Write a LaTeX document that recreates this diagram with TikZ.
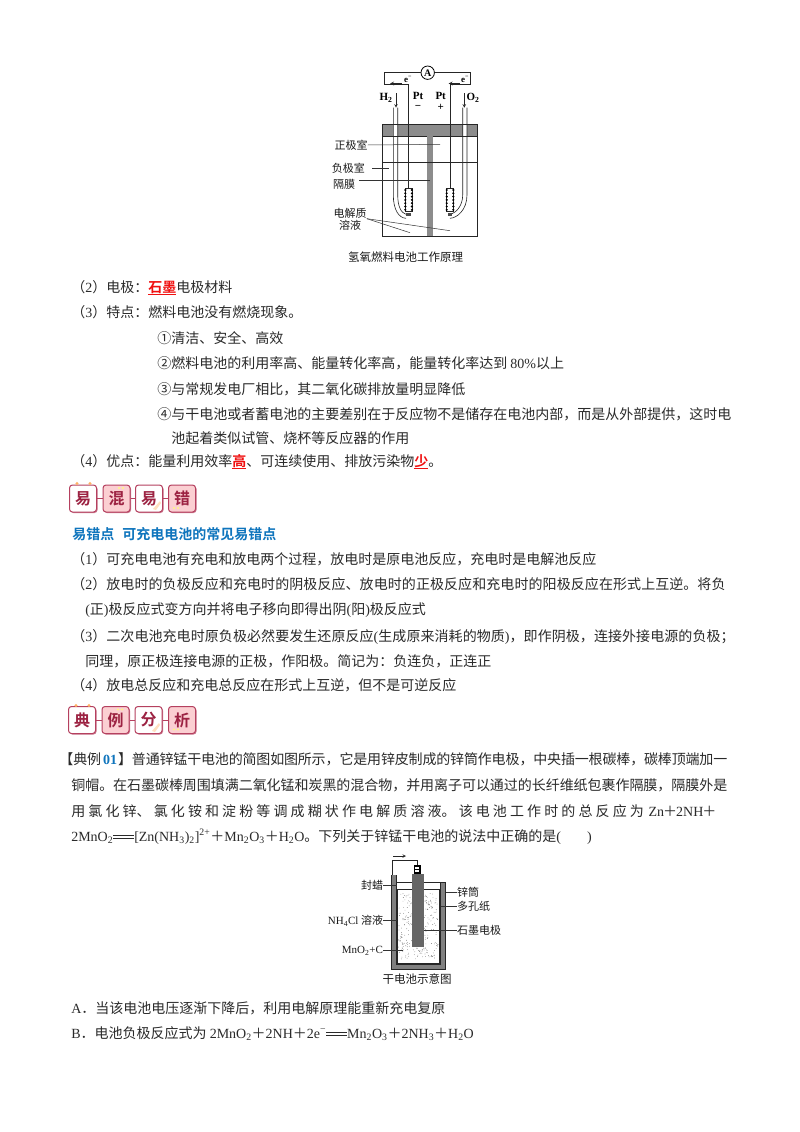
\documentclass[tikz,border=0pt]{standalone}
\usepackage{fontspec}
\setmainfont{Noto Sans CJK SC}[BoldFont={Noto Sans CJK SC Bold}]
\newfontfamily\latfont{Liberation Serif}
\usetikzlibrary{calc}
\usetikzlibrary{arrows, positioning}
\definecolor{bodytext}{HTML}{2A2A2A}
\definecolor{tagline}{HTML}{B5405F}
\definecolor{tagpink}{HTML}{FBCFD2}
\definecolor{tagink}{HTML}{9C2242}
\definecolor{titleblue}{HTML}{0F75BD}
\definecolor{keyred}{HTML}{F01010}
\XeTeXlinebreaklocale "zh"
\XeTeXlinebreakskip=0pt plus 3pt minus 0.5pt
\newcommand{\lat}[1]{{\latfont #1}}
\newcommand{\eqq}{\mbox{\rlap{\rule[2.4pt]{21pt}{0.6pt}}\rule[5pt]{21pt}{0.6pt}}}
\newcommand{\keyw}[1]{{\color{keyred}\bfseries\underline{#1}}}
\begin{document}
\begin{tikzpicture}[x=1pt,y=-1pt,line width=0.6pt]
    \tikzstyle{line}  = [anchor=base west, inner sep=0pt, text=bodytext, font=\fontsize{14}{16}\selectfont]
    \tikzstyle{full}  = [line, text width=#1, execute at begin node={\parfillskip=0pt}]
    \tikzstyle{lab}   = [inner sep=0pt, text=black!90, font=\fontsize{11}{12}\selectfont]
    \tikzstyle{figcap}   = [lab, font=\fontsize{11.5}{12}\selectfont]
    \tikzstyle{sym}   = [inner sep=0pt, text=black, font=\latfont\bfseries\fontsize{11}{12}\selectfont]
    \tikzstyle{tag}   = [draw=tagline, line width=1pt, rounded corners=3pt, minimum width=27pt, minimum height=27pt, inner sep=0pt, text=tagink, font=\fontsize{16}{16}\selectfont\bfseries]
    \tikzstyle{wire}  = [line width=0.6pt, black!85]
    \tikzstyle{lead}  = [line width=0.5pt, black!80]

    \useasboundingbox (0,0) rectangle (800,1132);
    \fill[white] (0,0) rectangle (800,1132);

    % Fuel cell figure .........................
    \fill[black!45] (382.3,124) rectangle (477.3,136.7);
    \fill[black!45] (427.3,136.7) rectangle (432.7,236.7);
    \fill[white] (393.3,124) rectangle (397.7,136.7);
    \fill[white] (462.7,124) rectangle (467,136.7);
    \draw[wire] (382.3,124) rectangle (477.3,236.7);
    \draw[wire] (382.3,136.7) -- (427.3,136.7);
    \draw[wire] (432.7,136.7) -- (477.3,136.7);
    \draw[wire] (382.3,162) -- (477.3,162);

    \node[circle, draw=black, line width=0.8pt, minimum size=13.4pt, inner sep=0pt, font=\latfont\bfseries\fontsize{10}{10}\selectfont] (amm) at (427.7,72.7) {A};
    \coordinate (wl) at (408.3,188.3);
    \coordinate (wr) at (450,188.3);
    \draw[wire] (amm) -- (384,72.7) -- (384,84) -- (408.3,84) -- (wl);
    \draw[wire] (amm) -- (470.7,72.7) -- (470.7,84) -- (450,84) -- (wr);

    \draw[->,>=stealth,wire,line width=0.8pt] (401.5,83.5) -- (390,83.5);
    \draw[->,>=stealth,wire,line width=0.8pt] (460,83.5) -- (448.5,83.5);
    \node[sym, font=\latfont\bfseries\fontsize{9}{10}\selectfont] (el) at (408,79.5) {e\textsuperscript{−}};
    \node[sym, font=\latfont\bfseries\fontsize{9}{10}\selectfont] (er) at (465,79.5) {e\textsuperscript{−}};
    \node[sym] (htwo) at (386,98) {H\textsubscript{2}};
    \node[sym] (otwo) at (473,98) {O\textsubscript{2}};
    \node[sym] (ptl) at (418,96) {Pt};
    \node[sym] (ptr) at (440.7,96) {Pt};
    \node[sym] (mi) at (418,107) {−};
    \node[sym] (pl) at (440.7,107) {+};
    \draw[->,>=stealth,wire] (396,93) -- (396,107.7);
    \draw[->,>=stealth,wire] (464.3,93) -- (464.3,107.7);

    \draw[wire] (393.3,107.7) -- (393.3,195) .. controls (393.3,210) and (399,218) .. (406,218.3);
    \draw[wire] (397.7,107.7) -- (397.7,195) .. controls (397.7,206) and (401,213) .. (406,214.3);
    \draw[wire] (467,107.7) -- (467,195) .. controls (467,210) and (457,218) .. (450,218.3);
    \draw[wire] (462.7,107.7) -- (462.7,195) .. controls (462.7,206) and (456,213) .. (450,214.3);

    \foreach \ex in {405.3,446.7}{
        \draw[wire,fill=white] (\ex,188.3) rectangle ++(6.6,23.4);
        \foreach \ey in {190,193.3,...,211}{
            \fill[black] (\ex,\ey) circle (1.2);
            \fill[black] (\ex+6.6,\ey) circle (1.2);
        }
        \fill[black!70] (\ex+1,212.5) rectangle ++(4.6,3.5);
    }

    \node[lab] (pos) at (351,145) {正极室};
    \node[lab] (neg) at (348.3,168.3) {负极室};
    \node[lab] (mem) at (344,184) {隔膜};
    \node[lab] (elec) at (350,213.3) {电解质};
    \node[lab] (sol) at (350,225) {溶液};
    \coordinate (posend) at (440,144.3);
    \coordinate (negend) at (389.3,168.3);
    \coordinate (memend) at (430,180.7);
    \coordinate (solend) at (450,230.7);
    \coordinate (solenda) at (410,232.7);
    \draw[lead] (pos.east) -- (posend);
    \draw[lead] (372.3,168.3) -- (negend);
    \draw[lead] (359.3,180.7) -- (memend);
    \draw[lead] (elec.south east) -- (solend);
    \draw[lead] (elec.south east) -- (solenda);
    \node[figcap] (capa) at (405.5,256.7) {氢氧燃料电池工作原理};

    % Text block one .........................
    \node[line] (ltwo) at (71,292) {（\lat{2}）电极：\keyw{石墨}电极材料};
    \node[line] (lthree) at (71,317) {（\lat{3}）特点：燃料电池没有燃烧现象。};
    \node[line] (ca) at (157,343) {①清洁、安全、高效};
    \node[line] (cb) at (157,368) {②燃料电池的利用率高、能量转化率高，能量转化率达到 \lat{80\%}以上};
    \node[line] (cc) at (157,394) {③与常规发电厂相比，其二氧化碳排放量明显降低};
    \node[line] (cd) at (157,419) {④与干电池或者蓄电池的主要差别在于反应物不是储存在电池内部，而是从外部提供，这时电};
    \node[line] (ce) at (171,443) {池起着类似试管、烧杯等反应器的作用};
    \node[line] (lfour) at (71,466) {（\lat{4}）优点：能量利用效率\keyw{高}、可连续使用、排放污染物\keyw{少}。};

    % Tags .........................
    \foreach \n/\x/\fl/\t in {a/83/white/易,b/116.5/tagpink/混,c/149/white/易,d/182/tagpink/错}{
        \fill[tagline!70, rounded corners=3pt] (\x-12.5,486) rectangle (\x+14.5,513);
        \node[tag, fill=\fl] (tag\n) at (\x,498.5) {\t};
    }
    \draw[tagline] (taga) -- (tagb);
    \draw[tagline] (tagb) -- (tagc);
    \draw[tagline] (tagc) -- (tagd);
    \foreach \tx in {77,90}{\fill[orange!60] (\tx,483.5) circle (1.6);}
    \foreach \tx in {119,123,174,178}{\fill[yellow!50!white] (\tx,\ifnum\tx<150 488\else 508\fi) circle (1.1);}
    \fill[orange!25] (153,509) -- (160,501) -- (161,503) -- (156,510) -- cycle;
    \foreach \n/\x/\fl/\t in {e/82/white/典,f/115.5/tagpink/例,g/148.5/white/分,h/182/tagpink/析}{
        \fill[tagline!70, rounded corners=3pt] (\x-12.5,707.5) rectangle (\x+14.5,734.5);
        \node[tag, fill=\fl] (tag\n) at (\x,720) {\t};
    }
    \draw[tagline] (tage) -- (tagf);
    \draw[tagline] (tagf) -- (tagg);
    \draw[tagline] (tagg) -- (tagh);
    \foreach \tx in {76,89}{\fill[orange!60] (\tx,705.5) circle (1.6);}
    \foreach \tx in {118,122,174,178}{\fill[yellow!50!white] (\tx,\ifnum\tx<150 709.5\else 729.5\fi) circle (1.1);}
    \fill[orange!25] (152,731) -- (159,723) -- (160,725) -- (155,732) -- cycle;

    % Text block two .........................
    \node[line, text=titleblue, font=\fontsize{14}{16}\selectfont\bfseries] (title) at (72,539) {易错点\hspace{8pt}可充电电池的常见易错点};
    \node[line] (ma) at (71,564) {（\lat{1}）可充电电池有充电和放电两个过程，放电时是原电池反应，充电时是电解池反应};
    \node[full=655pt] (mb) at (71,589) {（\lat{2}）放电时的负极反应和充电时的阴极反应、放电时的正极反应和充电时的阳极反应在形式上互逆。将负};
    \node[line] (mc) at (85,614) {\lat{(}正\lat{)}极反应式变方向并将电子移向即得出阴\lat{(}阳\lat{)}极反应式};
    \node[full=664pt] (md) at (71,641) {（\lat{3}）二次电池充电时原负极必然要发生还原反应\lat{(}生成原来消耗的物质\lat{)}，即作阴极，连接外接电源的负极；};
    \node[line] (me) at (85,666) {同理，原正极连接电源的正极，作阳极。简记为：负连负，正连正};
    \node[line] (mf) at (71,690) {（\lat{4}）放电总反应和充电总反应在形式上互逆，但不是可逆反应};

    % Text block three .........................
    \node[full=668pt] (qa) at (59,764) {【典例\hspace{2pt}{\color{titleblue}\bfseries\lat{01}}\hspace{1pt}】普通锌锰干电池的简图如图所示，它是用锌皮制成的锌筒作电极，中央插一根碳棒，碳棒顶端加一};
    \node[full=656pt] (qb) at (71,790) {铜帽。在石墨碳棒周围填满二氧化锰和炭黑的混合物，并用离子可以通过的长纤维纸包裹作隔膜，隔膜外是};
    \node[full=656pt, execute at begin node={\XeTeXlinebreakskip=0pt plus 8pt}] (qc) at (71,816) {用氯化锌、氯化铵和淀粉等调成糊状作电解质溶液。该电池工作时的总反应为 \mbox{\lat{Zn}\hspace{-1pt}＋\hspace{-1pt}\lat{2NH}\hspace{-1pt}＋}};
    \node[line] (qd) at (71,841) {\lat{2MnO\textsubscript{2}}\eqq\lat{[Zn(NH\textsubscript{3})\textsubscript{2}]\textsuperscript{2+}}＋\lat{Mn\textsubscript{2}O\textsubscript{3}}＋\lat{H\textsubscript{2}O}。下列关于锌锰干电池的说法中正确的是\lat{(\hspace{26pt})}};

    % Dry cell figure .........................
    \fill[black!50] (391,875) rectangle (396,969.3);
    \fill[black!50] (391,964.5) rectangle (445.7,969.3);
    \fill[black!50] (440.7,882.7) rectangle (445.7,969.3);
    \draw[wire] (391,875) -- (391,969.3) -- (445.7,969.3) -- (445.7,882.7) -- (396,882.7);
    \draw[wire] (396,875) -- (396,964.5) -- (440.7,964.5) -- (440.7,882.7);
    \draw[wire,fill=white] (396.8,889.3) rectangle (439.4,963.3);
    \pgfmathsetseed{7}
    \foreach \i in {1,...,300}{
        \pgfmathsetmacro\dx{418+rand*20}
        \pgfmathsetmacro\dy{893+rnd*66}
        \fill[black!65] (\dx,\dy) circle (0.35);
    }
    \fill[black!60] (411.7,874) rectangle (424,946.7);
    \fill[black] (414,865) rectangle (420.7,874);
    \fill[white] (415.3,867) rectangle (419.4,869);
    \fill[white] (415.3,870.3) rectangle (419.4,872.3);
    \coordinate (capt) at (417.3,865);
    \coordinate (canl) at (392.7,875);
    \draw[wire] (canl) -- (392.7,860) -- (417.3,860) -- (capt);
    \draw[->,>=stealth,wire] (393.3,856) -- (406,856);

    \node[lab, anchor=east] (wax) at (383.3,885) {封蜡};
    \node[lab, anchor=east] (nh) at (383.3,920.7) {\lat{NH\textsubscript{4}Cl} 溶液};
    \node[lab, anchor=east] (mno) at (383.3,950.7) {\lat{MnO\textsubscript{2}+C}};
    \node[lab, anchor=west] (zn) at (456.7,892.7) {锌筒};
    \node[lab, anchor=west] (paper) at (456.7,906.7) {多孔纸};
    \node[lab, anchor=west] (rod) at (456.7,930) {石墨电极};
    \draw[lead] (wax) -- (397.3,885);
    \draw[lead] (nh) -- (397.3,920.7);
    \draw[lead] (mno) -- (403.3,950.7);
    \draw[lead] (zn) -- (445.7,892.7);
    \draw[lead] (paper) -- (440.7,906.7);
    \draw[lead] (rod) -- (424,930);
    \node[figcap] (capb) at (417,979.3) {干电池示意图};

    % Options .........................
    \node[line] (opta) at (71,1013) {\lat{A}．当该电池电压逐渐下降后，利用电解原理能重新充电复原};
    \node[line] (optb) at (71,1038) {\lat{B}．电池负极反应式为 \lat{2MnO\textsubscript{2}}＋\lat{2NH}＋\lat{2e\textsuperscript{−}}\eqq\lat{Mn\textsubscript{2}O\textsubscript{3}}＋\lat{2NH\textsubscript{3}}＋\lat{H\textsubscript{2}O}};
\end{tikzpicture}
\end{document}
